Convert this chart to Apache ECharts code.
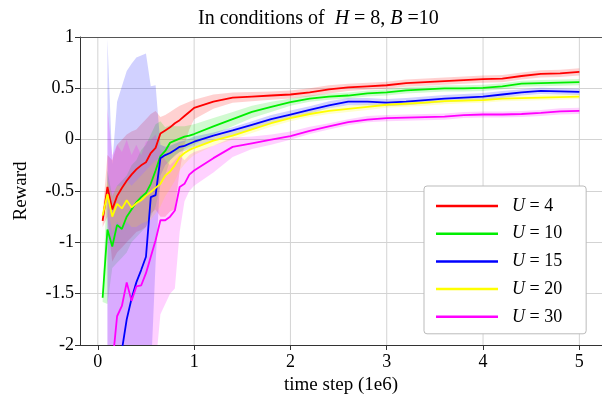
<!DOCTYPE html>
<html>
<head>
<meta charset="utf-8">
<script src="https://cdn.jsdelivr.net/npm/echarts@6/dist/echarts.min.js"></script>
<style>html,body{margin:0;padding:0;background:#fff;}#chart{width:602px;height:400px;}</style>
</head>
<body>
<div id="chart"></div>
<script>
// ---- data (time step in 1e6, reward) ----
const steps = [0.05,0.1,0.15,0.2,0.25,0.3,0.35,0.4,0.45,0.5,0.55,0.6,0.65,0.7,0.75,0.8,0.85,0.9,0.95,1.0,
  1.2,1.4,1.6,1.8,2.0,2.2,2.4,2.6,2.8,3.0,3.2,3.4,3.6,3.8,4.0,4.2,4.4,4.6,4.8,5.0];
const uValues = [4, 10, 15, 20, 30];
const xTicks = [0, 1, 2, 3, 4, 5];

const meanU4 = [-0.79,-0.46,-0.68,-0.55,-0.47,-0.40,-0.34,-0.29,-0.25,-0.22,-0.13,-0.08,0.06,0.09,0.12,0.16,0.19,0.23,0.27,0.31,
  0.37,0.41,0.42,0.43,0.44,0.46,0.49,0.51,0.52,0.53,0.55,0.56,0.57,0.58,0.59,0.595,0.62,0.64,0.645,0.66];
const lowU4 = [-0.85,-0.75,-1.19,-1.10,-1.05,-1.00,-0.95,-0.90,-0.88,-0.85,-0.72,-0.68,-0.75,-0.75,-0.70,-0.68,-0.30,-0.05,0.10,0.20,
  0.30,0.36,0.375,0.39,0.40,0.42,0.45,0.475,0.485,0.495,0.515,0.525,0.535,0.545,0.555,0.56,0.585,0.605,0.61,0.625];
const highU4 = [-0.72,-0.15,-0.20,-0.05,0.00,0.05,0.08,0.10,0.15,0.20,0.25,0.28,0.22,0.24,0.27,0.30,0.33,0.35,0.37,0.39,
  0.44,0.46,0.465,0.47,0.48,0.50,0.53,0.545,0.555,0.565,0.585,0.595,0.605,0.615,0.625,0.63,0.655,0.675,0.68,0.695];

const meanU10 = [-1.54,-0.875,-1.04,-0.83,-0.87,-0.75,-0.68,-0.61,-0.56,-0.52,-0.43,-0.30,-0.16,-0.11,-0.03,-0.01,0.01,0.03,0.04,0.055,
  0.13,0.20,0.27,0.32,0.365,0.40,0.42,0.43,0.45,0.46,0.48,0.49,0.50,0.50,0.505,0.52,0.545,0.55,0.555,0.56];
const lowU10 = [-1.58,-1.60,-1.25,-1.20,-1.15,-1.10,-1.00,-0.95,-0.90,-0.85,-0.75,-0.65,-0.45,-0.35,-0.20,-0.15,-0.12,-0.09,-0.07,-0.05,
  0.05,0.13,0.21,0.27,0.33,0.37,0.39,0.40,0.42,0.43,0.45,0.46,0.47,0.47,0.475,0.49,0.515,0.52,0.525,0.53];
const highU10 = [-1.50,-0.30,-0.55,-0.45,-0.40,-0.35,-0.25,-0.20,-0.10,-0.05,0.05,0.15,0.18,0.12,0.14,0.13,0.13,0.13,0.14,0.15,
  0.21,0.27,0.33,0.37,0.40,0.43,0.45,0.46,0.48,0.49,0.51,0.52,0.53,0.53,0.535,0.55,0.575,0.58,0.585,0.59];

const meanU15 = [null,-2.5,-2.4,-2.2,-2.05,-1.75,-1.55,-1.39,-1.27,-1.14,-0.56,-0.54,-0.18,-0.15,-0.13,-0.10,-0.07,-0.06,-0.04,-0.02,
  0.04,0.09,0.145,0.20,0.245,0.29,0.335,0.37,0.37,0.36,0.37,0.385,0.40,0.41,0.42,0.44,0.46,0.475,0.47,0.465];
const lowU15 = [null,-3,-3,-3,-3,-3,-3,-3,-3,-3,-2.3,-1.2,-0.35,-0.25,-0.20,-0.16,-0.12,-0.11,-0.09,-0.07,
  -0.01,0.04,0.10,0.16,0.21,0.255,0.305,0.335,0.335,0.325,0.335,0.35,0.365,0.375,0.385,0.405,0.43,0.445,0.44,0.435];
const highU15 = [null,0.98,-0.24,0.37,0.52,0.67,0.74,0.80,0.82,0.84,0.52,0.53,-0.05,-0.07,-0.06,-0.04,-0.02,-0.01,0.01,0.03,
  0.07,0.12,0.18,0.24,0.285,0.325,0.375,0.405,0.405,0.395,0.405,0.42,0.435,0.445,0.455,0.475,0.49,0.505,0.50,0.495];

const meanU20 = [-0.74,-0.53,-0.75,-0.625,-0.67,-0.59,-0.66,-0.62,-0.59,-0.545,-0.51,-0.47,-0.43,-0.35,-0.31,-0.25,-0.17,-0.13,-0.10,-0.08,
  -0.01,0.04,0.10,0.16,0.21,0.25,0.28,0.30,0.32,0.34,0.35,0.36,0.375,0.38,0.385,0.40,0.405,0.41,0.415,0.42];
const lowU20 = [-0.80,-0.65,-0.90,-0.80,-0.85,-0.80,-0.85,-0.85,-0.82,-0.80,-0.78,-0.72,-0.65,-0.55,-0.48,-0.40,-0.30,-0.24,-0.19,-0.15,
  -0.06,0.00,0.065,0.125,0.18,0.22,0.25,0.27,0.29,0.31,0.32,0.33,0.345,0.355,0.36,0.375,0.38,0.385,0.39,0.395];
const highU20 = [-0.68,-0.40,-0.55,-0.45,-0.45,-0.40,-0.45,-0.40,-0.35,-0.30,-0.25,-0.20,-0.18,-0.12,-0.10,-0.08,-0.04,-0.02,0.00,0.00,
  0.04,0.08,0.135,0.195,0.24,0.28,0.31,0.33,0.35,0.37,0.38,0.39,0.405,0.405,0.41,0.425,0.43,0.435,0.44,0.445];

const meanU30 = [null,-2.5,-2.2,-1.72,-1.62,-1.39,-1.57,-1.43,-1.42,-1.30,-1.14,-0.98,-0.785,-0.785,-0.75,-0.69,-0.46,-0.43,-0.34,-0.30,
  -0.18,-0.07,-0.035,0.0,0.035,0.085,0.13,0.17,0.195,0.21,0.215,0.22,0.225,0.24,0.245,0.245,0.25,0.26,0.275,0.28];
const lowU30 = [null,-3,-3,-3,-3,-3,-3,-3,-3,-3,-3,-2.2,-1.7,-1.6,-1.5,-1.45,-0.9,-0.6,-0.5,-0.45,
  -0.32,-0.17,-0.09,-0.05,0.0,0.055,0.10,0.14,0.17,0.18,0.185,0.19,0.195,0.21,0.215,0.215,0.22,0.23,0.245,0.25];
const highU30 = [null,0.3,-0.15,-0.05,-0.12,0.0,-0.15,-0.05,-0.15,-0.02,0.0,0.05,-0.1,-0.2,-0.25,-0.2,-0.15,-0.2,-0.15,-0.12,
  -0.06,0.02,0.03,0.05,0.08,0.125,0.16,0.2,0.23,0.24,0.245,0.25,0.255,0.27,0.275,0.275,0.28,0.29,0.305,0.31];

const means = [meanU4, meanU10, meanU15, meanU20, meanU30];
const lows = [lowU4, lowU10, lowU15, lowU20, lowU30];
const highs = [highU4, highU10, highU15, highU20, highU30];
const colors = ['#ff0000', '#00ee00', '#0000ff', '#ffff00', '#ff00ff'];
const bandColors = ['rgba(255,0,0,0.18)', 'rgba(0,230,0,0.18)', 'rgba(0,0,255,0.18)', 'rgba(255,255,0,0.2)', 'rgba(255,0,255,0.18)'];

const FONT = '"Liberation Serif", "Times New Roman", serif';
const names = uValues.map(u => 'U = ' + u);

function pairs(ys) { return steps.map((x, i) => [x, ys[i] == null ? null : ys[i]]); }

function clipRect(params) {
  const c = params.coordSys;
  return { type: 'rect', shape: { x: c.x, y: c.y, width: c.width, height: c.height } };
}

const series = [];
// vertical grid lines at x ticks
series.push({
  type: 'custom', silent: true, z: 0,
  data: xTicks.map(v => [v, 0]),
  encode: { x: 0, y: 1 },
  renderItem: function (params, api) {
    const v = api.value(0);
    const p1 = api.coord([v, 1]);
    const p2 = api.coord([v, -2]);
    return { type: 'line', shape: { x1: p1[0], y1: p1[1], x2: p2[0], y2: p2[1] },
      style: { stroke: '#d3d3d3', lineWidth: 1 } };
  }
});
// shaded bands
uValues.forEach((u, i) => {
  series.push({
    name: 'band-' + u, type: 'custom', silent: true, z: 1,
    data: [[0, 0]], encode: { x: 0, y: 1 },
    renderItem: function (params, api) {
      const up = [], dn = [];
      steps.forEach((x, k) => {
        if (lows[i][k] == null || highs[i][k] == null) return;
        up.push(api.coord([x, highs[i][k]]));
        dn.push(api.coord([x, lows[i][k]]));
      });
      return {
        type: 'polygon', shape: { points: up.concat(dn.reverse()) },
        style: { fill: bandColors[i], stroke: null },
        clipPath: clipRect(params)
      };
    }
  });
});
uValues.forEach((u, i) => {
  series.push({
    name: names[i], type: 'line', data: pairs(means[i]), symbol: 'none', z: 3,
    color: colors[i], lineStyle: { color: colors[i], width: 1.8 }
  });
});

const chart = echarts.init(document.getElementById('chart'), null, { renderer: 'canvas' });
chart.setOption({
  animation: false,
  backgroundColor: '#fff',
  title: {
    text: '{n|In conditions of  }{i|H}{n| = 8, }{i|B}{n| =10}',
    left: 198, top: 7, padding: 0,
    textStyle: {
      fontWeight: 'normal',
      rich: {
        n: { fontFamily: FONT, fontSize: 20, color: '#000', fontWeight: 'normal', lineHeight: 24 },
        i: { fontFamily: FONT, fontSize: 20, color: '#000', fontWeight: 'normal', fontStyle: 'italic', lineHeight: 24 }
      }
    }
  },
  grid: { left: 80, right: 0, top: 37, bottom: 50, containLabel: false },
  xAxis: [{
    type: 'value', min: -0.185, max: 5.235,
    name: 'time step (1e6)', nameLocation: 'middle', nameGap: 31,
    nameTextStyle: { fontFamily: FONT, fontSize: 19, color: '#000' },
    axisLine: { show: true, onZero: false, lineStyle: { color: '#333', width: 1 } },
    axisTick: { show: true, length: 5, inside: false, customValues: xTicks, lineStyle: { color: '#333' } },
    axisLabel: { customValues: xTicks, fontFamily: FONT, fontSize: 18, color: '#000', margin: 8 },
    splitLine: { show: false }
  }, {
    type: 'value', position: 'top', min: -0.185, max: 5.235,
    axisLine: { show: true, onZero: false, lineStyle: { color: '#555', width: 1 } },
    axisTick: { show: false }, axisLabel: { show: false }, splitLine: { show: false }
  }],
  yAxis: {
    type: 'value', min: -2, max: 1, interval: 0.5,
    name: 'Reward', nameLocation: 'middle', nameGap: 49,
    nameTextStyle: { fontFamily: FONT, fontSize: 19, color: '#000' },
    axisLine: { show: true, onZero: false, lineStyle: { color: '#333', width: 1 } },
    axisTick: { show: true, length: 5, lineStyle: { color: '#333' } },
    axisLabel: { fontFamily: FONT, fontSize: 18, color: '#000', margin: 6, formatter: v => String(v) },
    splitLine: { show: true, lineStyle: { color: '#d3d3d3', width: 1 } }
  },
  legend: {
    data: names, orient: 'vertical', left: 424, top: 186,
    icon: 'rect', itemWidth: 62, itemHeight: 2.5, itemGap: 7.7,
    padding: [10, 24, 7, 12],
    backgroundColor: '#fff', borderColor: '#bbbbbb', borderWidth: 1, borderRadius: 3,
    z: 10,
    formatter: name => '{i|U}' + name.slice(1),
    textStyle: {
      fontFamily: FONT, fontSize: 18, color: '#000', lineHeight: 20, padding: [0, 0, 0, 9],
      rich: { i: { fontFamily: FONT, fontSize: 18, fontStyle: 'italic', color: '#000', lineHeight: 20 } }
    }
  },
  series: series
});
</script>
</body>
</html>
